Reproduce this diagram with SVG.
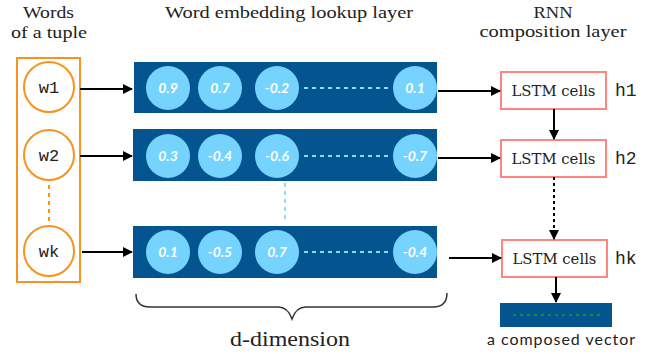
<svg xmlns="http://www.w3.org/2000/svg" width="655" height="354" viewBox="0 0 655 354">
<style>
.hdr{font-family:"Liberation Serif","DejaVu Serif",serif;font-size:17px;fill:#222;text-anchor:middle}
.wtxt{font-family:"Liberation Mono","DejaVu Sans Mono",monospace;font-size:17px;fill:#222;text-anchor:middle}
.word{fill:#fff;stroke:#f7931e;stroke-width:2}
.row{fill:#03548f}
.cell{fill:#76d3fd}
.num{font-family:"Lato","Open Sans",sans-serif;font-weight:bold;font-style:italic;font-size:14px;fill:#fff;text-anchor:middle}
.lstm{fill:#fff;stroke:#ff8580;stroke-width:2}
.ltxt{font-family:"DejaVu Serif","Liberation Serif",serif;font-size:15px;fill:#222;text-anchor:middle}
.htxt{font-family:"Liberation Mono","DejaVu Sans Mono",monospace;font-size:18px;fill:#222}
.arr{stroke:#000;stroke-width:2;fill:none;marker-end:url(#ah)}
.dotb{stroke:#8fd8ff;stroke-width:2;stroke-dasharray:4 4;fill:none}
</style>
<defs>
<marker id="ah" viewBox="0 0 10 10" refX="9" refY="5" markerWidth="5" markerHeight="5" orient="auto" markerUnits="strokeWidth">
<path d="M0,0 L10,5 L0,10 z" fill="#000"/>
</marker>
</defs>

<g id="headers">
<text class="hdr" x="48.5" y="18" textLength="51" lengthAdjust="spacingAndGlyphs">Words</text>
<text class="hdr" x="49" y="38" textLength="76" lengthAdjust="spacingAndGlyphs">of a tuple</text>
<text class="hdr" x="289" y="18" textLength="248" lengthAdjust="spacingAndGlyphs">Word embedding lookup layer</text>
<text class="hdr" x="553" y="18" textLength="39" lengthAdjust="spacingAndGlyphs">RNN</text>
<text class="hdr" x="553" y="37" textLength="147" lengthAdjust="spacingAndGlyphs">composition layer</text>
</g>

<g id="words">
<rect x="17" y="58" width="63" height="224" fill="none" stroke="#f7931e" stroke-width="2"/>
<line x1="49" y1="185" x2="49" y2="224" stroke="#f7931e" stroke-width="2" stroke-dasharray="4 4"/>
<g id="w1"><circle class="word" cx="49" cy="87" r="25"/><text class="wtxt" x="49" y="93">w1</text></g>
<g id="w2"><circle class="word" cx="49" cy="155" r="25"/><text class="wtxt" x="49" y="161">w2</text></g>
<g id="wk"><circle class="word" cx="49" cy="251" r="25"/><text class="wtxt" x="49" y="257">wk</text></g>
</g>

<g id="row1">
<rect class="row" x="134" y="62" width="303" height="51"/>
<circle class="cell" cx="168" cy="88" r="22"/><text class="num" x="168" y="93">0.9</text>
<circle class="cell" cx="220" cy="88" r="22"/><text class="num" x="220" y="93">0.7</text>
<circle class="cell" cx="277" cy="88" r="22"/><text class="num" x="277" y="93">-0.2</text>
<line class="dotb" x1="304" y1="88" x2="390" y2="88"/>
<circle class="cell" cx="415" cy="88" r="22"/><text class="num" x="415" y="93">0.1</text>
</g>
<g id="row2">
<rect class="row" x="133" y="129" width="304" height="52"/>
<circle class="cell" cx="168" cy="156" r="22"/><text class="num" x="168" y="161">0.3</text>
<circle class="cell" cx="220" cy="156" r="22"/><text class="num" x="220" y="161">-0.4</text>
<circle class="cell" cx="277" cy="156" r="22"/><text class="num" x="277" y="161">-0.6</text>
<line class="dotb" x1="304" y1="156" x2="390" y2="156"/>
<circle class="cell" cx="415" cy="156" r="22"/><text class="num" x="415" y="161">-0.7</text>
</g>
<line class="dotb" x1="285" y1="183" x2="285" y2="222"/>
<g id="rowk">
<rect class="row" x="133" y="226" width="304" height="52"/>
<circle class="cell" cx="168" cy="252" r="22"/><text class="num" x="168" y="257">0.1</text>
<circle class="cell" cx="220" cy="252" r="22"/><text class="num" x="220" y="257">-0.5</text>
<circle class="cell" cx="277" cy="252" r="22"/><text class="num" x="277" y="257">0.7</text>
<line class="dotb" x1="304" y1="252" x2="390" y2="252"/>
<circle class="cell" cx="415" cy="252" r="22"/><text class="num" x="415" y="257">-0.4</text>
</g>

<g id="brace">
<path d="M136,294 Q136,307 150,307 L278,307 Q288,307 292,319 Q296,307 306,307 L433,307 Q447,307 447,293" fill="none" stroke="#333" stroke-width="1.5"/>
<text x="290" y="346" font-family="'Liberation Serif', 'DejaVu Serif', serif" font-size="21" fill="#222" text-anchor="middle" textLength="120" lengthAdjust="spacingAndGlyphs">d-dimension</text>
</g>

<g id="lstm1"><rect class="lstm" x="501" y="72" width="105" height="37"/><text class="ltxt" x="553.5" y="96" textLength="84" lengthAdjust="spacingAndGlyphs">LSTM cells</text><text class="htxt" x="615" y="96">h1</text></g>
<g id="lstm2"><rect class="lstm" x="501" y="140" width="105" height="37"/><text class="ltxt" x="553.5" y="164" textLength="84" lengthAdjust="spacingAndGlyphs">LSTM cells</text><text class="htxt" x="615" y="164">h2</text></g>
<g id="lstmk"><rect class="lstm" x="502" y="240" width="105" height="37"/><text class="ltxt" x="554.5" y="264" textLength="84" lengthAdjust="spacingAndGlyphs">LSTM cells</text><text class="htxt" x="615" y="264">hk</text></g>

<g id="composed">
<rect x="500" y="303" width="112" height="24" fill="#03548f"/>
<line x1="513" y1="315" x2="600" y2="315" stroke="#1f9a1f" stroke-width="1.5" stroke-dasharray="3 4"/>
<text x="561" y="345" font-family="Lato, 'Open Sans', sans-serif" font-size="16" fill="#222" text-anchor="middle" textLength="148" lengthAdjust="spacing">a composed vector</text>
</g>

<g id="connectors">
<line class="arr" x1="80" y1="89" x2="132" y2="89"/>
<line class="arr" x1="80" y1="156" x2="132" y2="156"/>
<line class="arr" x1="82" y1="252" x2="132" y2="252"/>
<line class="arr" x1="438" y1="91" x2="500" y2="91"/>
<line class="arr" x1="438" y1="158" x2="500" y2="158"/>
<line class="arr" x1="449" y1="258" x2="501" y2="258"/>
<line class="arr" x1="554" y1="109" x2="554" y2="139"/>
<line class="arr" x1="554" y1="177" x2="554" y2="239" stroke-dasharray="3 3"/>
<line class="arr" x1="556" y1="277" x2="556" y2="302"/>
</g>
</svg>
